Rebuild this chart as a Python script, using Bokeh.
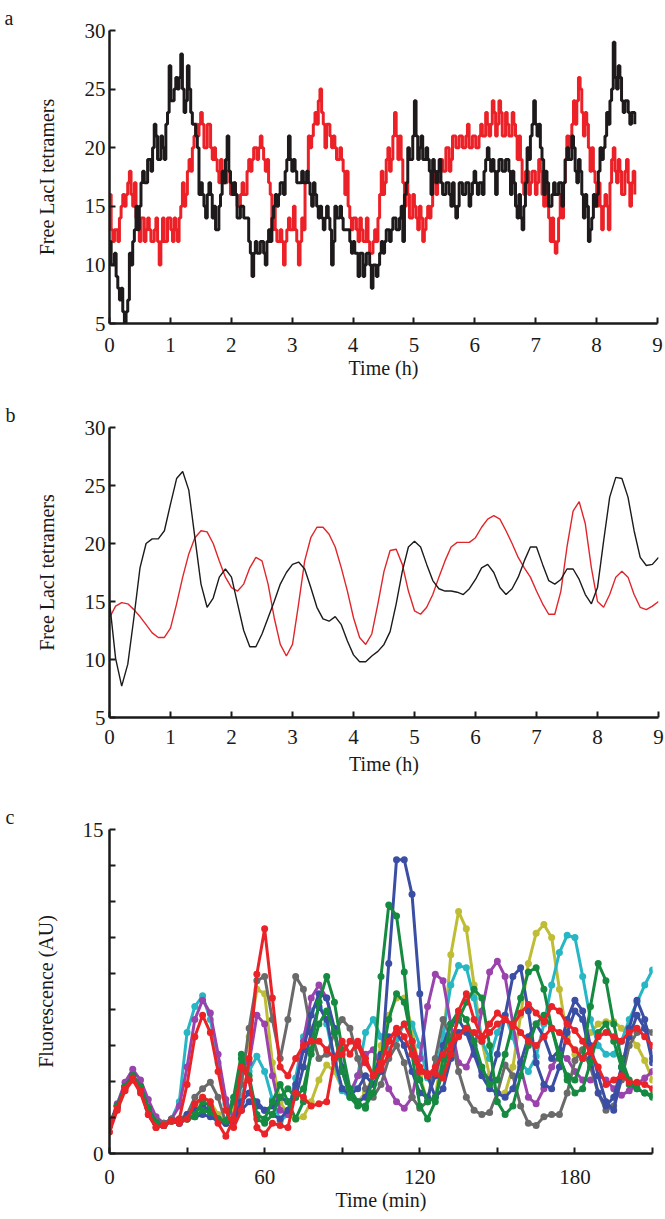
import numpy as np
from bokeh.plotting import figure
from bokeh.layouts import column
from bokeh.models import Range1d, FixedTicker
from bokeh.embed import file_html
from bokeh.resources import INLINE

FONT = "Liberation Serif"

# ---------------- Panel a: stochastic trajectories (sample ranges lo/hi) ----------------
A_TMAX = 8.6
black_lo = [10,10,8,7,5,6,10,12,13,15, 17,17,18,20,19,19,19,22,24,24, 25,26,23,24,23,22,20,16,15,14,
            16,14,13,15,17,19,17,16,14,14, 14,14,11,9,11,11,11,10,12,14, 15,16,16,18,19,18,17,17,17,17,
            16,15,15,14,13,14,13,10,14,14, 13,13,12,11,11,9,9,10,10,8, 9,10,11,12,12,13,13,13,12,16,
            19,19,21,19,19,19,18,16,17,18, 16,16,16,15,14,15,16,16,15,16, 17,16,16,18,19,18,16,18,18,18,
            18,16,15,14,13,15,19,21,22,21, 19,16,15,15,16,16,15,17,19,19, 18,17,16,14,12,13,15,16,19,20,
            22,24,26,25,24,23,23,22,22]
black_hi = [12,11,9,8,6,7,11,13,15,17, 18,19,19,22,21,21,20,23,27,25, 26,28,25,27,25,22,21,17,16,16,
            17,15,13,16,18,21,18,17,16,15, 15,14,12,11,12,12,12,12,13,15, 16,17,17,19,21,19,18,17,18,18,
            17,17,16,15,14,15,14,12,15,15, 14,13,13,12,11,11,11,11,11,10, 10,11,12,13,13,14,14,14,15,17,
            20,21,24,20,21,20,19,19,18,19, 17,17,17,17,15,17,17,17,17,17, 18,17,17,19,20,19,18,19,19,19,
            19,18,17,16,14,17,20,22,24,22, 20,18,17,16,17,17,17,19,20,21, 20,19,18,16,15,14,16,18,20,21,
            23,25,29,27,26,24,24,23,23]
red_lo = [13,12,12,14,15,16,16,15,13,12, 12,13,12,12,12,10,12,12,13,12, 12,14,15,16,18,20,21,22,20,20,
          20,19,18,17,17,17,16,16,15,15, 16,16,18,19,19,20,19,18,16,13, 12,12,10,12,13,13,12,10,13,17,
          20,21,22,24,22,20,21,20,19,19, 18,16,14,13,13,12,12,12,11,11, 12,14,16,17,18,19,21,19,17,15,
          14,14,14,13,12,13,14,15,16,17, 18,18,18,19,20,20,20,20,20,20, 20,20,21,21,21,22,21,22,21,21,
          21,21,21,19,17,16,16,17,16,17, 16,15,14,12,11,12,14,17,20,21, 22,24,23,21,20,18,17,15,13,15,
          13,17,18,17,16,16,17,15,16]
red_hi = [16,13,13,15,16,17,18,17,14,14, 14,14,13,13,14,12,14,14,14,14, 13,15,17,18,19,21,22,23,22,22,
          22,20,19,19,18,18,18,17,16,16, 17,18,19,20,20,21,20,19,17,15, 13,13,12,13,14,15,13,12,14,18,
          21,22,23,25,23,22,22,21,20,20, 19,18,15,14,14,14,13,14,12,12, 13,16,18,19,20,21,23,21,19,17,
          16,16,15,15,14,14,15,17,18,19, 19,20,20,21,21,21,21,21,22,21, 21,21,22,23,22,24,23,24,23,23,
          22,23,22,21,19,18,18,18,18,19, 18,17,15,14,12,14,16,19,21,22, 24,26,25,23,22,20,18,17,15,16,
          15,19,20,19,18,18,19,17,18]

# ---------------- Panel b: smoothed trajectories ----------------
b_t = [round(0.1 * i, 1) for i in range(91)]
b_black = [15.0, 10.1, 7.7, 9.6, 13.6, 17.9, 20.0, 20.4, 20.4, 21.1,
           23.4, 25.6, 26.2, 24.6, 20.5, 16.5, 14.5, 15.3, 17.1, 17.8,
           17.1, 14.8, 12.5, 11.1, 11.1, 12.2, 13.6, 15.0, 16.5, 17.5,
           18.2, 18.4, 17.8, 16.2, 14.5, 13.5, 13.3, 13.7, 13.0, 11.6,
           10.4, 9.8, 9.8, 10.3, 10.7, 11.3, 12.4, 14.8, 17.6, 19.7,
           20.2, 19.7, 18.2, 16.8, 16.1, 15.9, 15.9, 15.8, 15.6, 16.1,
           16.9, 17.9, 18.2, 17.5, 16.2, 15.6, 16.1, 17.1, 18.5, 19.7,
           19.7, 18.2, 16.8, 16.5, 16.9, 17.8, 17.8, 16.9, 15.6, 14.8,
           16.2, 20.2, 24.0, 25.7, 25.6, 24.0, 21.1, 18.8, 18.1, 18.2,
           18.8]
b_red = [13.6, 14.6, 14.9, 14.8, 14.3, 13.7, 13.0, 12.3, 11.9, 11.9,
         12.7, 14.8, 17.1, 19.1, 20.5, 21.1, 21.0, 20.0, 18.5, 17.1,
         16.2, 15.9, 16.5, 17.9, 18.8, 18.5, 16.5, 13.6, 11.3, 10.3,
         11.3, 14.8, 18.5, 20.5, 21.4, 21.4, 20.8, 19.7, 17.9, 15.9,
         13.6, 11.9, 11.3, 12.2, 14.8, 17.6, 19.4, 19.5, 18.2, 15.9,
         14.2, 13.9, 14.5, 15.6, 17.1, 18.5, 19.7, 20.1, 20.1, 20.1,
         20.5, 21.4, 22.1, 22.4, 22.1, 21.1, 20.0, 18.8, 17.9, 17.1,
         15.9, 14.8, 13.9, 13.9, 15.9, 19.7, 22.8, 23.6, 21.7, 17.9,
         15.0, 14.5, 15.6, 17.1, 17.6, 17.1, 15.6, 14.5, 14.3, 14.6,
         15.0]

# ---------------- Panel c: single-cell fluorescence ----------------
c_t = list(range(0, 211, 3))
c_yellow = [1.3, 2.2, 3.1, 3.6, 3.1, 2.1, 1.4, 1.3, 1.5, 1.5,
            1.7, 2.2, 2.6, 2.4, 1.8, 1.5, 2.0, 3.4, 5.4, 7.6,
            7.4, 4.2, 2.4, 1.8, 1.6, 1.7, 2.4, 3.4, 4.1, 3.8,
            3.0, 2.6, 2.4, 2.8, 3.6, 5.0, 6.4, 7.2, 7.2, 5.8,
            3.6, 2.4, 2.6, 5.0, 9.2, 11.2, 10.4, 7.8, 5.2, 3.6,
            2.8, 2.8, 4.0, 6.4, 8.8, 10.2, 10.6, 10.0, 7.6, 5.4,
            4.6, 4.8, 5.6, 6.0, 6.1, 6.1, 5.8, 5.4, 5.0, 4.3,
            3.4]
c_cyan = [1.3, 2.2, 3.1, 3.6, 3.1, 2.1, 1.4, 1.4, 1.6, 2.4,
          5.6, 6.8, 7.3, 6.2, 4.2, 2.3, 1.6, 2.6, 3.8, 4.5,
          3.8, 2.5, 1.5, 1.8, 3.5, 5.4, 6.6, 7.0, 6.0, 4.2,
          2.9, 2.6, 3.6, 5.6, 6.2, 5.4, 4.8, 5.3, 6.0, 6.0,
          5.0, 3.5, 3.8, 5.5, 7.8, 8.7, 8.6, 7.2, 5.2, 4.4,
          5.6, 6.4, 5.4, 4.2, 3.8, 4.5, 6.0, 7.8, 9.3, 10.1,
          10.0, 8.2, 6.2, 5.0, 4.6, 4.6, 5.2, 6.2, 7.0, 7.8,
          8.5]
c_magenta = [1.3, 2.3, 3.3, 3.9, 3.4, 2.5, 1.7, 1.4, 1.6, 2.2,
             4.0, 6.2, 7.1, 6.5, 4.6, 2.5, 1.6, 2.0, 4.2, 6.4,
             6.0, 3.6, 2.0, 1.8, 3.0, 5.2, 7.2, 7.8, 7.2, 5.6,
             3.8, 2.8, 3.6, 4.6, 4.8, 4.0, 3.0, 2.4, 2.1, 2.6,
             4.4, 6.8, 8.3, 8.0, 6.0, 4.2, 4.0, 4.8, 6.6, 8.4,
             8.9, 8.2, 6.0, 4.0, 2.6, 2.3, 3.0, 4.0, 4.6, 4.4,
             3.8, 3.4, 3.4, 3.6, 3.4, 3.0, 2.7, 2.9, 3.2, 3.5,
             3.8]
c_gray = [1.3, 2.2, 3.1, 3.5, 3.0, 2.1, 1.5, 1.4, 1.6, 1.6,
          1.8, 2.6, 3.0, 3.3, 2.6, 1.4, 1.6, 3.2, 5.8, 8.0,
          8.2, 6.2, 4.4, 6.2, 8.2, 7.6, 5.6, 4.4, 4.6, 5.6,
          6.2, 5.8, 4.4, 3.0, 2.6, 3.2, 4.4, 5.0, 4.2, 2.6,
          2.1, 2.4, 4.4, 6.2, 5.4, 3.8, 2.6, 2.0, 1.8, 1.9,
          2.8, 4.1, 3.6, 2.2, 1.4, 1.3, 1.7, 1.8, 1.8, 2.8,
          4.3, 4.8, 4.0, 2.8, 2.0, 2.2, 3.4, 5.0, 5.6, 5.8,
          5.6]
c_blue1 = [1.3, 2.2, 3.1, 3.6, 3.1, 2.1, 1.4, 1.3, 1.5, 1.4,
           1.8, 2.0, 2.2, 2.0, 1.6, 1.4, 1.6, 2.4, 2.8, 2.4,
           2.0, 2.2, 2.6, 2.4, 2.6, 4.0, 5.6, 6.8, 6.2, 4.4,
           3.0, 2.7, 3.0, 3.6, 3.2, 3.8, 8.8, 13.6, 13.6, 12.0,
           7.4, 3.6, 2.6, 3.0, 4.4, 5.6, 5.8, 5.0, 3.8, 3.4,
           4.6, 6.4, 8.2, 8.6, 6.6, 4.2, 3.2, 3.0, 4.0, 5.6,
           6.6, 6.2, 4.4, 2.8, 2.2, 2.6, 4.0, 5.4, 6.4, 5.8,
           4.2]
c_blue2 = [1.3, 2.2, 3.1, 3.6, 3.1, 2.1, 1.4, 1.3, 1.5, 1.4,
           1.6, 1.7, 1.8, 1.7, 1.5, 1.4, 1.5, 2.0, 2.4, 2.2,
           2.0, 1.8, 1.6, 2.0, 3.2, 4.8, 6.4, 7.4, 7.2, 5.8,
           4.0, 2.8, 2.4, 2.6, 3.6, 4.6, 5.4, 5.6, 5.0, 3.8,
           2.8, 2.6, 3.6, 5.0, 6.0, 6.2, 5.6, 4.6, 3.6, 3.0,
           2.8, 2.6, 3.0, 4.2, 5.4, 6.0, 5.4, 4.4, 4.8, 6.2,
           7.1, 6.6, 5.0, 3.6, 2.4, 2.0, 3.6, 5.8, 7.1, 6.2,
           4.4]
c_green1 = [1.3, 2.2, 3.1, 3.6, 3.1, 2.1, 1.4, 1.3, 1.5, 1.5,
            1.6, 1.8, 2.4, 2.2, 1.6, 1.5, 2.4, 4.4, 3.6, 1.8,
            1.6, 2.4, 3.2, 2.4, 1.6, 2.4, 4.8, 7.0, 8.2, 7.0,
            4.8, 3.0, 2.4, 2.1, 3.6, 8.2, 11.5, 11.0, 8.4, 4.6,
            2.2, 1.6, 2.4, 4.4, 6.0, 6.6, 6.2, 5.2, 4.0, 3.2,
            3.4, 4.6, 6.0, 7.2, 8.4, 8.6, 7.6, 5.8, 4.4, 3.6,
            3.4, 4.4, 6.8, 8.8, 8.0, 6.0, 4.4, 3.4, 3.0, 2.8,
            2.7]
c_green2 = [1.3, 2.2, 3.1, 3.6, 3.1, 2.1, 1.4, 1.3, 1.5, 1.5,
            1.6, 1.7, 2.0, 1.9, 1.6, 1.5, 2.6, 4.6, 3.4, 1.6,
            1.4, 1.8, 2.6, 3.0, 2.6, 3.0, 4.6, 6.0, 6.6, 5.6,
            3.8, 2.6, 2.2, 2.2, 2.8, 4.2, 6.2, 7.4, 7.0, 5.2,
            3.4, 2.4, 2.6, 3.8, 5.2, 6.2, 7.0, 7.6, 7.2, 5.0,
            2.4, 1.8, 2.2, 3.6, 5.0, 6.0, 6.4, 5.8, 4.6, 3.4,
            2.8, 3.0, 4.2, 5.6, 6.0, 5.2, 4.0, 3.2, 3.0, 2.8,
            2.6]
c_red1 = [1.3, 2.1, 3.0, 3.5, 2.9, 1.8, 1.2, 1.3, 1.5, 1.6,
          3.2, 5.4, 6.4, 5.6, 3.8, 2.0, 1.2, 2.0, 4.4, 8.3,
          10.4, 7.2, 4.0, 3.6, 4.4, 5.0, 5.2, 5.2, 4.8, 4.4,
          4.6, 5.2, 5.0, 4.2, 3.6, 4.2, 5.2, 5.8, 5.4, 4.6,
          3.8, 3.6, 4.0, 4.6, 5.0, 5.4, 5.8, 5.6, 5.2, 5.6,
          6.0, 6.2, 6.0, 5.6, 5.2, 5.0, 5.4, 5.8, 5.6, 5.2,
          4.8, 4.4, 4.8, 5.4, 5.6, 5.4, 5.2, 5.6, 5.8, 5.4,
          5.0]
c_red2 = [1.0, 2.0, 2.9, 3.4, 2.8, 1.8, 1.2, 1.3, 1.5, 1.4,
          1.6, 2.3, 2.6, 2.4, 1.4, 0.8, 1.6, 4.0, 3.4, 1.2,
          0.9, 1.4, 1.3, 1.2, 2.8, 2.6, 2.2, 2.3, 2.4, 4.4,
          5.2, 4.6, 5.2, 4.4, 3.6, 3.9, 4.6, 5.6, 6.0, 5.2,
          4.0, 3.7, 3.7, 3.5, 4.6, 6.6, 7.4, 6.2, 5.4, 6.0,
          6.5, 6.2, 5.9, 6.5, 6.9, 6.5, 6.1, 6.8, 6.6, 6.0,
          5.7, 5.2, 4.7, 4.0, 3.2, 3.4, 3.6, 3.3, 3.3, 3.2,
          3.0]

c_series = [
    ("#bebd35", c_yellow), ("#27b6c3", c_cyan), ("#9b43ad", c_magenta),
    ("#6a6a6a", c_gray), ("#3a4ea4", c_blue2), ("#3a4ea4", c_blue1),
    ("#168a40", c_green2), ("#168a40", c_green1), ("#ea2329", c_red1), ("#ea2329", c_red2),
]


def style(p, xstand, xlabstand, ystand=4, ylabstand=24):
    p.outline_line_color = None
    p.grid.visible = False
    for ax in p.axis:
        ax.axis_line_width = 2.5
        ax.axis_line_color = "#1a1a1a"
        ax.major_tick_line_width = 2
        ax.major_tick_line_color = "#1a1a1a"
        ax.minor_tick_line_width = 2
        ax.minor_tick_line_color = "#1a1a1a"
        ax.major_tick_in = 6
        ax.major_tick_out = 0
        ax.minor_tick_in = 6
        ax.minor_tick_out = 0
        ax.major_label_text_font = FONT
        ax.major_label_text_font_size = "21px"
        ax.major_label_text_color = "#1a1a1a"
        ax.axis_label_text_font = FONT
        ax.axis_label_text_font_size = "20px"
        ax.axis_label_text_font_style = "normal"
        ax.axis_label_text_color = "#1a1a1a"
    p.xaxis.major_label_standoff = xstand
    p.xaxis.axis_label_standoff = xlabstand
    p.yaxis.major_label_standoff = ystand
    p.yaxis.axis_label_standoff = ylabstand


def panel_title(p, text, left):
    p.title.text = text
    p.title.align = "left"
    p.title.offset = -left + 4
    p.title.standoff = 4
    p.title.text_font = FONT
    p.title.text_font_size = "20px"
    p.title.text_font_style = "normal"
    p.title.text_color = "#1a1a1a"


# ---------- figure a ----------
pa = figure(frame_width=548, frame_height=293, min_border_left=109, min_border_right=7,
            min_border_top=30, min_border_bottom=72, output_backend="svg", toolbar_location=None,
            x_range=Range1d(0, 9), y_range=Range1d(5, 30))
n = len(black_lo)
dt = A_TMAX / (n - 1)


def alt_steps(lo, hi):
    xs, ys = [], []
    for k in range(len(lo)):
        a, b = (hi[k], lo[k]) if k % 2 == 0 else (lo[k], hi[k])
        xs += [k * dt, k * dt + dt / 2]
        ys += [a, b]
    return xs, ys


rx, ry = alt_steps(red_lo, red_hi)
bx, by = alt_steps(black_lo, black_hi)
pa.step(rx, ry, mode="after", line_color="#ec2127", line_width=3)
pa.step(bx, by, mode="after", line_color="#1e1a1b", line_width=3)
pa.xaxis.ticker = FixedTicker(ticks=list(range(10)))
pa.yaxis.ticker = FixedTicker(ticks=[5, 10, 15, 20, 25, 30])
pa.xaxis.axis_label = "Time (h)"
pa.yaxis.axis_label = "Free LacI tetramers"
style(pa, 14, 2)
pa.xaxis.minor_tick_line_color = None
pa.yaxis.minor_tick_line_color = None
panel_title(pa, "a", 109)

# ---------- figure b ----------
pb = figure(frame_width=549, frame_height=290, min_border_left=108, min_border_right=7,
            min_border_top=32, min_border_bottom=78, output_backend="svg", toolbar_location=None,
            x_range=Range1d(0, 9), y_range=Range1d(5, 30))
pb.line(b_t, b_red, line_color="#e0262b", line_width=1.4)
pb.line(b_t, b_black, line_color="#1e1a1b", line_width=1.4)
pb.xaxis.ticker = FixedTicker(ticks=list(range(10)))
pb.yaxis.ticker = FixedTicker(ticks=[5, 10, 15, 20, 25, 30])
pb.xaxis.axis_label = "Time (h)"
pb.yaxis.axis_label = "Free LacI tetramers"
style(pb, 12, 6)
pb.xaxis.minor_tick_line_color = None
pb.yaxis.minor_tick_line_color = None
panel_title(pb, "b", 108)

# ---------- figure c ----------
pc = figure(frame_width=543, frame_height=324, min_border_left=108, min_border_right=13,
            min_border_top=34, min_border_bottom=62, output_backend="svg", toolbar_location=None,
            x_range=Range1d(0, 210), y_range=Range1d(0, 15))
for col, vals in c_series:
    pc.line(c_t, vals, line_color=col, line_width=3)
    pc.scatter(c_t, vals, size=7, fill_color=col, line_color=None)
pc.xaxis.ticker = FixedTicker(ticks=[0, 60, 120, 180], minor_ticks=[30, 90, 150, 210])
pc.yaxis.ticker = FixedTicker(ticks=[0, 15], minor_ticks=[i * 15 / 9 for i in range(1, 9)])
pc.xaxis.axis_label = "Time (min)"
pc.yaxis.axis_label = "Fluorescence (AU)"
style(pc, 16, 2, ystand=6, ylabstand=23)
panel_title(pc, "c", 108)

layout = column(pa, pb, pc, spacing=0)
open("out.html", "w").write(file_html(layout, INLINE))
